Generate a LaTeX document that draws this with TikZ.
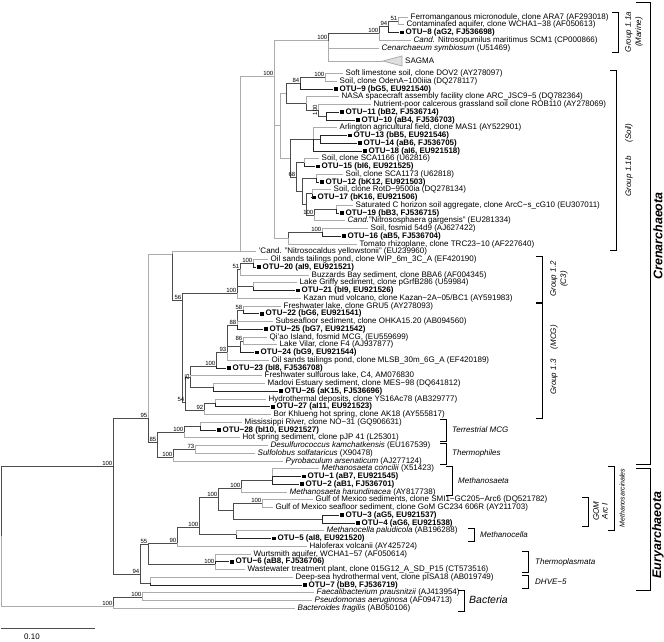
\documentclass[tikz,border=0pt]{standalone}
\usepackage{fontspec}
\setmainfont{Liberation Sans}
\usetikzlibrary{calc}
\tikzset{
  gb/.style={draw=gray!65, line width=0.8pt},
  di/.style={draw=black!70, line width=0.55pt},
  bk/.style={draw=black!85, line width=0.55pt},
  lab/.style={anchor=west, inner sep=0pt, text height=5.8pt, text depth=1.6pt, font=\fontsize{8}{9}\selectfont},
  otul/.style={lab, font=\fontsize{8}{9}\selectfont\bfseries},
  sq/.style={fill=black, minimum size=3.6pt, inner sep=0pt},
  bs/.style={anchor=south east, inner sep=0.5pt, font=\fontsize{6}{6}\selectfont},
  grp/.style={font=\fontsize{8}{9}\selectfont\itshape, inner sep=0pt},
  brk/.style={draw=black, line width=0.5pt},
  big/.style={font=\fontsize{12.5}{14}\selectfont\bfseries\itshape, inner sep=0pt},
}
\newcommand{\LeafY}[1]{\pgfmathsetmacro\tmpy{(#1<6)?(17+7.75*(#1-1)):((#1==6)?61:(430+7.75*(#1-53)))}}
\newcommand{\leaf}[4]{\LeafY{#2}\coordinate (#1) at (#3,\tmpy);\node[lab] (#1-t) at ([xshift=2.5pt]#1) {#4};}
\newcommand{\otu}[4]{\LeafY{#2}\coordinate (#1) at (#3,\tmpy);\node[sq] (#1-s) at ([xshift=2.8pt]#1) {};\node[otul] (#1-t) at ([xshift=6.5pt]#1) {#4};}
\newcommand{\inode}[4]{\path let \p1=($(#3)!0.5!(#4)$) in coordinate (#1) at (#2pt,\y1);}
\newcommand{\inodey}[3]{\coordinate (#1) at (#2,#3);}
\newcommand{\bsl}[2]{\node[bs] (#1-bs) at (#1) {#2};}
\newcommand{\edg}[2]{\draw[gb] (#1) |- (#2);}
\newcommand{\edi}[2]{\draw[di] (#1) |- (#2);}
\newcommand{\edo}[2]{\draw[bk] (#1) |- (#2);}
\newcommand{\grpbrk}[3]{\draw[brk] (#1-6,#2) -- (#1,#2) -- (#1,#3) -- (#1-6,#3);}
\begin{document}
\begin{tikzpicture}[x=1pt,y=-1pt]
\useasboundingbox (0,0) rectangle (664,641);
\fill[white] (0,0) rectangle (664,641);
% ---------------- leaves
\leaf{l1}{1}{408}{Ferromanganous micronodule, clone ARA7 (AF293018)}
\leaf{l2}{2}{404}{Contaminated aquifer, clone WCHA1−38 (AF050613)}
\otu{l3}{3}{399}{OTU−8 (aG2, FJ536698)}
\leaf{l4}{4}{411}{\textit{Cand.} Nitrosopumilus maritimus SCM1 (CP000866)}
\leaf{l5}{5}{379}{\textit{Cenarchaeum symbiosum} (U51469)}
\coordinate (l6) at (383,61);
\draw[gb, fill=gray!25] (l6) -- ++(19,-5) -- ++(0,10) -- cycle;
\node[lab] (l6-t) at (405,61) {SAGMA};
\leaf{l7}{7}{343}{Soft limestone soil, clone DOV2 (AY278097)}
\leaf{l8}{8}{337}{Soil, clone OdenA−100iiia (DQ278117)}
\otu{l9}{9}{333}{OTU−9 (bG5, EU921540)}
\leaf{l10}{10}{339}{NASA spacecraft assembly facility clone ARC\_JSC9−5 (DQ782364)}
\leaf{l11}{11}{371}{Nutrient-poor calcerous grassland soil clone ROB110 (AY278069)}
\otu{l12}{12}{339}{OTU−11 (bB2, FJ536714)}
\otu{l13}{13}{355}{OTU−10 (aB4, FJ536703)}
\leaf{l14}{14}{337}{Arlington agricultural field, clone MAS1 (AY522901)}
\otu{l15}{15}{347}{OTU−13 (bB5, EU921546)}
\otu{l16}{16}{357}{OTU−14 (aB6, FJ536705)}
\otu{l17}{17}{362}{OTU−18 (aI6, EU921518)}
\leaf{l18}{18}{319}{Soil, clone SCA1166 (U62816)}
\otu{l19}{19}{315}{OTU−15 (bI6, EU921525)}
\leaf{l20}{20}{343}{Soil, clone SCA1173 (U62818)}
\otu{l21}{21}{319}{OTU−12 (bK12, EU921503)}
\leaf{l22}{22}{331}{Soil, clone RotD−9500ia (DQ278134)}
\otu{l23}{23}{311}{OTU−17 (bK16, EU921506)}
\leaf{l24}{24}{353}{Saturated C horizon soil aggregate, clone ArcC−s\_cG10 (EU307011)}
\otu{l25}{25}{339}{OTU−19 (bB3, FJ536715)}
\leaf{l26}{26}{345}{\textit{Cand.}"Nitrososphaera gargensis" (EU281334)}
\leaf{l27}{27}{368}{Soil, fosmid 54d9 (AJ627422)}
\otu{l28}{28}{341}{OTU−16 (aB5, FJ536704)}
\leaf{l29}{29}{357}{Tomato rhizoplane, clone TRC23−10 (AF227640)}
\leaf{l30}{30}{256}{'Cand. "Nitrosocaldus yellowstonii" (EU239960)}
\leaf{l31}{31}{268}{Oil sands tailings pond, clone WIP\_6m\_3C\_A (EF420190)}
\otu{l32}{32}{256}{OTU−20 (aI9, EU921521)}
\leaf{l33}{33}{309}{Buzzards Bay sediment, clone BBA6 (AF004345)}
\leaf{l34}{34}{297}{Lake Griffy sediment, clone pGrfB286 (U59984)}
\otu{l35}{35}{295}{OTU−21 (bI9, EU921526)}
\leaf{l36}{36}{301}{Kazan mud volcano, clone Kazan−2A−05/BC1 (AY591983)}
\leaf{l37}{37}{281}{Freshwater lake, clone GRU5 (AY278093)}
\otu{l38}{38}{259}{OTU−22 (bG6, EU921541)}
\leaf{l39}{39}{273}{Subseafloor sediment, clone OHKA15.20 (AB094560)}
\otu{l40}{40}{263}{OTU−25 (bG7, EU921542)}
\leaf{l41}{41}{267}{Qi'ao Island, fosmid MCG, (EU559699)}
\leaf{l42}{42}{277}{Lake Vilar, clone F4 (AJ937877)}
\otu{l43}{43}{254}{OTU−24 (bG9, EU921544)}
\leaf{l44}{44}{269}{Oil sands tailings pond, clone MLSB\_30m\_6G\_A (EF420189)}
\otu{l45}{45}{226}{OTU−23 (bI8, FJ536708)}
\leaf{l46}{46}{262}{Freshwater sulfurous lake, C4, AM076830}
\leaf{l47}{47}{265}{Madovi Estuary sediment, clone MES−98 (DQ641812)}
\otu{l48}{48}{278}{OTU−26 (aK15, FJ536696)}
\leaf{l49}{49}{266}{Hydrothermal deposits, clone YS16Ac78 (AB329777)}
\otu{l50}{50}{270}{OTU−27 (aI11, EU921523)}
\leaf{l51}{51}{271}{Bor Khlueng hot spring, clone AK18 (AY555817)}
\leaf{l52}{52}{242}{Mississippi River, clone NO−31 (GQ906631)}
\otu{l53}{53}{216}{OTU−28 (bI10, EU921527)}
\leaf{l54}{54}{240}{Hot spring sediment, clone pJP 41 (L25301)}
\leaf{l55}{55}{268}{\textit{Desulfurococcus kamchatkensis} (EU167539)}
\leaf{l56}{56}{255}{\textit{Sulfolobus solfataricus} (X90478)}
\leaf{l57}{57}{283}{\textit{Pyrobaculum arsenaticum} (AJ277124)}
\leaf{l58}{58}{319}{\textit{Methanosaeta concilii} (X51423)}
\otu{l59}{59}{301}{OTU−1 (aB7, EU921545)}
\otu{l60}{60}{299}{OTU−2 (aB1, FJ536701)}
\leaf{l61}{61}{287}{\textit{Methanosaeta harundinacea} (AY817738)}
\leaf{l62}{62}{313}{Gulf of Mexico sediments, clone SMI1−GC205−Arc6 (DQ521782)}
\leaf{l63}{63}{273}{Gulf of Mexico seafloor sediment, clone GoM GC234 606R (AY211703)}
\otu{l64}{64}{339}{OTU−3 (aG5, EU921537)}
\otu{l65}{65}{355}{OTU−4 (aG6, EU921538)}
\leaf{l66}{66}{324}{\textit{Methanocella paludicola} (AB196288)}
\otu{l67}{67}{271}{OTU−5 (aI8, EU921520)}
\leaf{l68}{68}{307}{Haloferax volcanii (AY425724)}
\leaf{l69}{69}{251}{Wurtsmith aquifer, WCHA1−57 (AF050614)}
\otu{l70}{70}{229}{OTU−6 (aB8, FJ536706)}
\leaf{l71}{71}{245}{Wastewater treatment plant, clone 015G12\_A\_SD\_P15 (CT573516)}
\leaf{l72}{72}{293}{Deep-sea hydrothermal vent, clone pISA18 (AB019749)}
\otu{l73}{73}{302}{OTU−7 (bB9, FJ536719)}
\leaf{l74}{74}{314}{\textit{Faecalibacterium prausnitzii} (AJ413954)}
\leaf{l75}{75}{312}{\textit{Pseudomonas aeruginosa} (AF094713)}
\leaf{l76}{76}{295}{\textit{Bacteroides fragilis} (AB050106)}
% ---------------- internal nodes: Group 1.1a
\inode{n51}{398}{l1}{l2}
\inode{n94}{388}{n51}{l3}
\inode{n100a}{379}{n94}{l4}
\inode{nB}{328}{n100a}{l5}
% Group 1.1b
\inode{n100s}{325}{l7}{l8}
\inode{n84}{300}{n100s}{l9}
\inode{nn3}{326}{l12}{l13}
\inode{nn2}{318}{l11}{nn3}
\inode{nn1}{306}{l10}{nn2}
\inode{g1}{286}{n84}{nn1}
\inode{na2}{320}{l15}{l16}
\inode{na1}{313}{l14}{l17}
\inode{n15}{304}{l18}{l19}
\inode{ns1}{316}{l20}{l21}
\inode{nr}{312}{l22}{l23}
\inode{nsat}{336}{l24}{l25}
\inode{nnit}{314}{nsat}{l26}
\inode{g5}{306}{nr}{nnit}
\inode{g4}{302}{ns1}{g5}
\inode{g3}{296}{n15}{g4}
\inode{g2}{290}{na1}{g3}
\inode{g0}{280}{g1}{g2}
\inode{nf}{322}{l27}{l28}
\inode{nt}{288}{nf}{l29}
\inodey{g11}{274}{76}
\inodey{G11}{240}{251.5}
% C3
\inode{c3a}{253}{l31}{l32}
\inode{c3b}{253}{l34}{l35}
\inode{c3c}{240}{c3a}{l33}
\inodey{c3}{237}{293}
% MCG
\inode{m1}{243}{l37}{l38}
\inodey{m3}{237}{325}
\inode{m4}{243}{l41}{l42}
\inode{m5}{240}{m4}{l43}
\inodey{m6}{227}{352}
\inodey{m8}{216}{366}
\inode{m10}{213}{l47}{l48}
\inodey{m9}{190}{377}
\inode{m12}{215}{l49}{l50}
\inodey{m11}{204}{410}
\inodey{m13}{185}{402}
\inodey{n56}{182}{300}
\inodey{X}{172}{254}
% terrestrial MCG, thermophiles
\inode{tm1}{200}{l52}{l53}
\inodey{tm}{184}{432}
\inode{th1}{195}{l55}{l56}
\inodey{th}{173}{457}
\inodey{n85}{157}{442}
\inodey{cren}{148}{418}
% Euryarchaeota
\inodey{e3}{272}{480}
\inodey{e1}{241}{488}
\inode{gg1}{262}{l62}{l63}
\inode{gg2}{322}{l64}{l65}
\inodey{gg}{233}{510}
\inodey{ms}{218}{497}
\inode{mc}{236}{l66}{l67}
\inodey{me}{199}{527}
\inodey{n90}{177}{543}
\inodey{tp}{215}{564}
\inodey{n55}{148}{544}
\inodey{dh}{150}{583}
\inodey{e94}{140}{574}
\inodey{arch}{113}{466}
% Bacteria
\inodey{bf}{142}{597}
\inodey{bact}{113}{606}
\inodey{root}{1}{536}
% ---------------- edges
\edg{n51}{l1}\edg{n51}{l2}
\edi{n94}{n51}\edo{n94}{l3}
\edi{n100a}{n94}\edg{n100a}{l4}
\edi{nB}{n100a}\edg{nB}{l5}\edg{nB}{l6}
\edg{g11}{nB}\edg{g11}{g0}\edg{g11}{nt}
\edg{G11}{g11}\edg{G11}{l30}
\edg{n100s}{l7}\edg{n100s}{l8}
\edi{n84}{n100s}\edo{n84}{l9}
\edo{nn3}{l12}\edo{nn3}{l13}
\edg{nn2}{l11}\edi{nn2}{nn3}
\edg{nn1}{l10}\edi{nn1}{nn2}
\edi{g1}{n84}\edi{g1}{nn1}
\edo{na2}{l15}\edo{na2}{l16}
\edg{na1}{l14}\edi{na1}{na2}\edo{na1}{l17}
\edg{n15}{l18}\edo{n15}{l19}
\edg{ns1}{l20}\edo{ns1}{l21}
\edg{nr}{l22}\edo{nr}{l23}
\edg{nsat}{l24}\edo{nsat}{l25}
\edi{nnit}{nsat}\edg{nnit}{l26}
\edi{g5}{nr}\edi{g5}{nnit}
\edi{g4}{ns1}\edi{g4}{g5}
\edi{g3}{n15}\edi{g3}{g4}
\edi{g2}{na1}\edi{g2}{g3}
\edg{g0}{g1}\edg{g0}{g2}
\edg{nf}{l27}\edo{nf}{l28}
\edi{nt}{nf}\edg{nt}{l29}
\edg{c3a}{l31}\edo{c3a}{l32}
\edg{c3b}{l34}\edo{c3b}{l35}
\edi{c3c}{c3a}\edg{c3c}{l33}
\edi{c3}{c3c}\edi{c3}{c3b}\edg{c3}{l36}
\edg{m1}{l37}\edo{m1}{l38}
\edi{m3}{m1}\edg{m3}{l39}\edo{m3}{l40}
\edg{m4}{l41}\edg{m4}{l42}
\edi{m5}{m4}\edo{m5}{l43}
\edi{m6}{m3}\edi{m6}{m5}\edg{m6}{l44}
\edi{m8}{m6}\edo{m8}{l45}
\edg{m10}{l47}\edo{m10}{l48}
\edi{m9}{m8}\edg{m9}{l46}\edi{m9}{m10}
\edg{m12}{l49}\edo{m12}{l50}
\edi{m11}{m12}\edg{m11}{l51}
\edi{m13}{m9}\edi{m13}{m11}
\edi{n56}{c3}\edi{n56}{m13}
\edg{X}{G11}\edi{X}{n56}
\edg{tm1}{l52}\edo{tm1}{l53}
\edi{tm}{tm1}\edg{tm}{l54}
\edg{th1}{l55}\edg{th1}{l56}
\edi{th}{th1}\edg{th}{l57}
\edi{n85}{tm}\edi{n85}{th}
\edg{cren}{X}\edi{cren}{n85}
\edg{e3}{l58}\edo{e3}{l59}\edo{e3}{l60}
\edi{e1}{e3}\edg{e1}{l61}
\edg{gg1}{l62}\edg{gg1}{l63}
\edo{gg2}{l64}\edo{gg2}{l65}
\edi{gg}{gg1}\edi{gg}{gg2}
\edi{ms}{e1}\edi{ms}{gg}
\edg{mc}{l66}\edo{mc}{l67}
\edi{me}{ms}\edi{me}{mc}
\edi{n90}{me}\edg{n90}{l68}
\edg{tp}{l69}\edo{tp}{l70}\edg{tp}{l71}
\edi{n55}{n90}\edi{n55}{tp}
\edg{dh}{l72}\edo{dh}{l73}
\edi{e94}{n55}\edi{e94}{dh}
\edi{arch}{cren}\edi{arch}{e94}
\edg{bf}{l74}\edg{bf}{l75}
\edi{bact}{bf}\edg{bact}{l76}
\edi{root}{arch}\edg{root}{bact}
% ---------------- bootstrap values
\bsl{n51}{51}\bsl{n94}{94}\bsl{n100a}{100}\bsl{nB}{100}\bsl{g11}{100}
\bsl{n100s}{100}\bsl{n84}{84}\bsl{g3}{68}\bsl{nnit}{100}\bsl{nf}{100}
\node[bs, rotate=90, anchor=south] (nn2-bs) at (nn2) {100};
\bsl{c3a}{100}\bsl{c3c}{51}\bsl{c3}{100}\bsl{n56}{56}
\bsl{m1}{58}\bsl{m3}{88}\bsl{m4}{86}\bsl{m6}{93}\bsl{m8}{100}
\node[bs, rotate=90, anchor=south] (m9-bs) at (m9) {75};
\bsl{m11}{92}\bsl{m13}{54}\bsl{tm}{100}\bsl{th1}{73}\bsl{th}{100}\bsl{n85}{85}\bsl{cren}{95}
\bsl{e1}{100}\bsl{ms}{100}\bsl{gg1}{100}\bsl{me}{100}\bsl{n90}{90}\bsl{tp}{100}\bsl{n55}{55}\bsl{e94}{94}
\bsl{arch}{100}\bsl{bf}{100}\bsl{bact}{100}
% ---------------- group brackets
\grpbrk{618}{12}{52}
\node[grp, rotate=90] (g11a-l) at (629,32) {Group 1.1a};
\node[grp, rotate=90] (g11a-m) at (639,32) {(Marine)};
\grpbrk{616}{70}{250}
\node[grp, rotate=90] (g11b-l) at (629,160) {Group 1.1b\hspace{14pt}(Soil)};
\grpbrk{542}{256}{302}
\node[grp, rotate=90] (g12-l) at (554,279) {Group 1.2};
\node[grp, rotate=90] (g12-m) at (564,279) {(C3)};
\grpbrk{542}{303}{418}
\node[grp, rotate=90] (g13-l) at (554,360) {Group 1.3\hspace{10pt}(MCG)};
\grpbrk{446}{419}{441}
\node[grp, anchor=west] (tm-l) at (452,430) {Terrestrial MCG};
\grpbrk{446}{443}{464}
\node[grp, anchor=west] (th-l) at (452,453) {Thermophiles};
\grpbrk{452}{466}{495}
\node[grp, anchor=west] (sae-l) at (458,481) {Methanosaeta};
\grpbrk{588}{497}{526}
\node[grp, rotate=90] (gom-l) at (596,511) {GOM};
\node[grp, rotate=90] (gom-m) at (605,511) {Arc I};
\grpbrk{474}{528}{541}
\node[grp, anchor=west] (cel-l) at (480,535) {Methanocella};
\grpbrk{614}{466}{530}
\node[grp, rotate=90, font=\fontsize{7}{8}\selectfont\itshape] (sar-l) at (622,498) {Methanosarcinales};
\grpbrk{528}{551}{572}
\node[grp, anchor=west] (tp-l) at (535,562) {Thermoplasmata};
\grpbrk{528}{575}{588}
\node[grp, anchor=west] (dh-l) at (535,582) {DHVE−5};
\grpbrk{464}{590}{611}
\node[grp, anchor=west, font=\fontsize{10.5}{12}\selectfont\itshape] (bac-l) at (469,600) {Bacteria};
% ---------------- phylum frames
\draw[black, line width=1pt] (636,2) -- (650,2) -- (650,464) -- (636,464);
\node[big, rotate=90] (cren-l) at (658,236) {Crenarchaeota};
\draw[black, line width=1pt] (636,468) -- (650,468) -- (650,590) -- (636,590);
\node[big, rotate=90] (eury-l) at (658,535) {Euryarchaeota};
% ---------------- scale bar
\coordinate (sb1) at (1,628);
\coordinate (sb2) at (95,628);
\draw[di] (sb1) -- (sb2);
\node[font=\fontsize{8}{9}\selectfont] (sb-l) at (32,637) {0.10};
\end{tikzpicture}
\end{document}
